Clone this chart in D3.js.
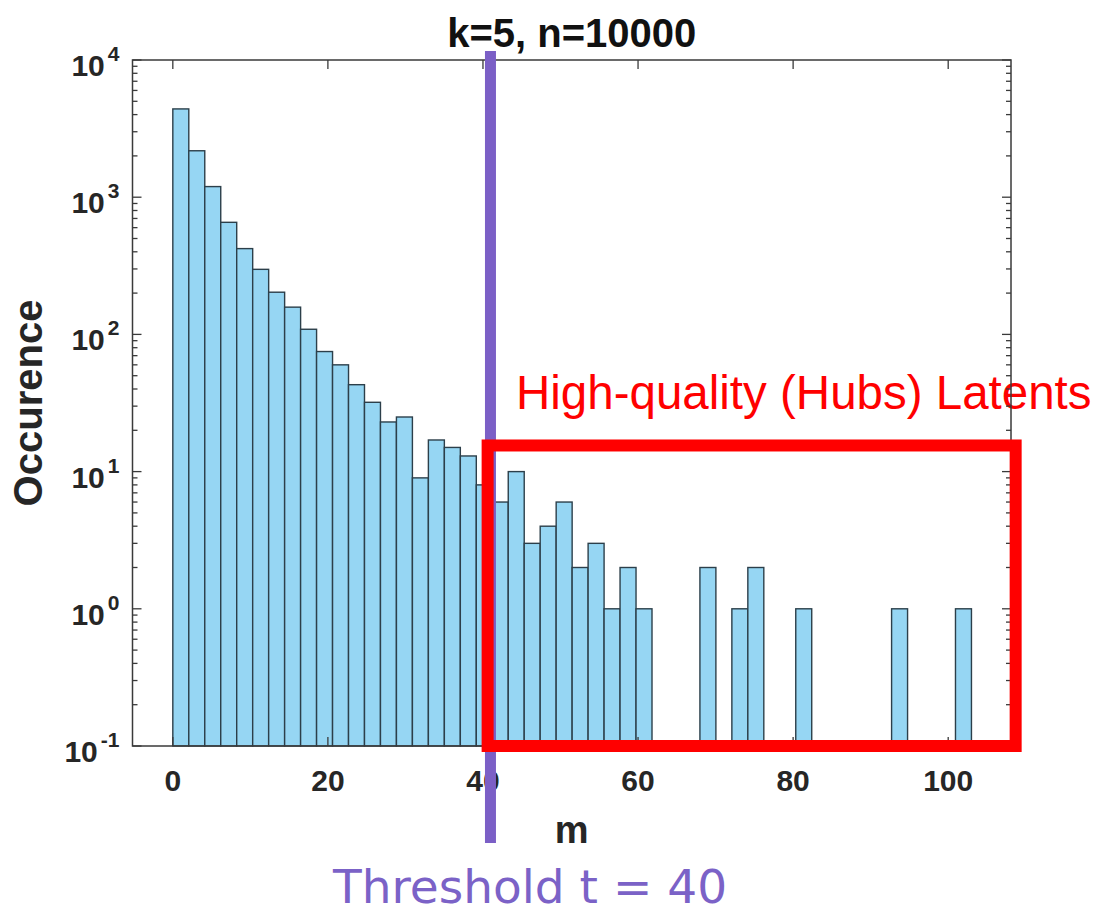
<!DOCTYPE html>
<html>
<head>
<meta charset="utf-8">
<script src="https://cdn.jsdelivr.net/npm/d3@7"></script>
<style>
body { margin: 0; background: #fff; }
svg { display: block; }
</style>
</head>
<body>
<svg width="1099" height="913"></svg>
<script>
// histogram of m, 50 bins over [0, 103]
var binWidth = 2.06;
var counts = [4400, 2180, 1195, 656, 422, 298, 203, 158, 109, 75,
              60, 43, 32, 23, 25, 9, 17, 15, 13, 8,
              6, 10, 3, 4, 6, 2, 3, 1, 2, 1,
              0, 0, 0, 2, 0, 1, 2, 0, 0, 1,
              0, 0, 0, 0, 0, 1, 0, 0, 0, 1];
var xTicks = [0, 20, 40, 60, 80, 100];
var yExponents = [-1, 0, 1, 2, 3, 4];
var threshold = 40;
var hubBox = {m0: 40.6, m1: 108.7, top: 15.5};

var margin = {top: 60, right: 88, bottom: 167, left: 132.5},
    W = 1099, H = 913,
    width = W - margin.left - margin.right,
    height = H - margin.top - margin.bottom;

var svg = d3.select("svg");

var x = d3.scaleLinear()
    .domain([-5.2, 108.1])
    .range([margin.left, margin.left + width]);

var y = d3.scaleLog()
    .domain([0.1, 10000])
    .range([margin.top + height, margin.top]);

var bins = counts.map(function(c, i) {
    return {x0: i * binWidth, x1: (i + 1) * binWidth, n: c};
}).filter(function(d) { return d.n > 0; });

// bars
svg.append("g").selectAll("rect")
    .data(bins)
  .enter().append("rect")
    .attr("x", function(d) { return x(d.x0); })
    .attr("width", function(d) { return x(d.x1) - x(d.x0); })
    .attr("y", function(d) { return y(d.n); })
    .attr("height", function(d) { return y(0.1) - y(d.n); })
    .attr("fill", "#96d6f3")
    .attr("stroke", "#2c3f4a")
    .attr("stroke-width", 1.4);

svg.append("text")
    .attr("x", 516)
    .attr("y", 409)
    .attr("fill", "#ff0000")
    .style("font-family", "'Liberation Sans', Arial, sans-serif")
    .style("font-size", "47.5px")
    .text("High-quality (Hubs) Latents");

// axes box and ticks (inward, like matlab)
var axisColor = "#3a3a3a";
var gAx = svg.append("g");
var x0 = x.range()[0], x1 = x.range()[1], yb = y.range()[0], yt = y.range()[1];

gAx.append("rect")
    .attr("x", x0).attr("y", yt)
    .attr("width", x1 - x0).attr("height", yb - yt)
    .attr("fill", "none")
    .attr("stroke", axisColor)
    .attr("stroke-width", 1.5);

xTicks.forEach(function(t) {
    gAx.append("line").attr("x1", x(t)).attr("x2", x(t)).attr("y1", yb).attr("y2", yb - 9)
        .attr("stroke", axisColor).attr("stroke-width", 1.3);
    gAx.append("line").attr("x1", x(t)).attr("x2", x(t)).attr("y1", yt).attr("y2", yt + 9)
        .attr("stroke", axisColor).attr("stroke-width", 1.3);
});

var majors = yExponents.map(function(e) { return Math.pow(10, e); });
y.ticks().forEach(function(v) {
    var isMajor = majors.some(function(m) { return Math.abs(m - v) / m < 1e-6; });
    var len = isMajor ? 9 : 5;
    gAx.append("line").attr("x1", x0).attr("x2", x0 + len).attr("y1", y(v)).attr("y2", y(v))
        .attr("stroke", axisColor).attr("stroke-width", 1.3);
    gAx.append("line").attr("x1", x1).attr("x2", x1 - len).attr("y1", y(v)).attr("y2", y(v))
        .attr("stroke", axisColor).attr("stroke-width", 1.3);
});

var fontBold = "'Liberation Sans', Arial, Helvetica, sans-serif";

gAx.selectAll(".xlab")
    .data(xTicks)
  .enter().append("text")
    .attr("x", function(d) { return x(d); })
    .attr("y", yb + 45)
    .attr("text-anchor", "middle")
    .attr("fill", "#262626")
    .style("font-family", fontBold)
    .style("font-weight", "bold")
    .style("font-size", "30px")
    .text(function(d) { return d; });

var ylab = gAx.selectAll(".ylab")
    .data(yExponents)
  .enter().append("text")
    .attr("x", x0 - 13)
    .attr("y", function(e) { return y(Math.pow(10, e)) + 16; })
    .attr("text-anchor", "end")
    .attr("fill", "#262626")
    .style("font-family", fontBold)
    .style("font-weight", "bold")
    .style("font-size", "30px");
ylab.append("tspan").text("10");
ylab.append("tspan")
    .attr("dx", 3)
    .attr("dy", -15)
    .style("font-size", "21px")
    .text(function(e) { return e; });

// axis labels and title
svg.append("text")
    .attr("x", (x0 + x1) / 2)
    .attr("y", 843)
    .attr("text-anchor", "middle")
    .attr("fill", "#262626")
    .style("font-family", fontBold)
    .style("font-weight", "bold")
    .style("font-size", "38px")
    .text("m");

svg.append("text")
    .attr("transform", "translate(42," + (yt + yb) / 2 + ") rotate(-90)")
    .attr("text-anchor", "middle")
    .attr("fill", "#262626")
    .style("font-family", fontBold)
    .style("font-weight", "bold")
    .style("font-size", "40px")
    .text("Occurence");

svg.append("text")
    .attr("x", (x0 + x1) / 2)
    .attr("y", 47)
    .attr("text-anchor", "middle")
    .attr("fill", "#111")
    .style("font-family", fontBold)
    .style("font-weight", "bold")
    .style("font-size", "40px")
    .text("k=5, n=10000");

// threshold line (hand placed a bit right of t on the original)
var tx = x(threshold) + 7.5;
svg.append("line")
    .attr("x1", tx).attr("x2", tx)
    .attr("y1", 51).attr("y2", 843)
    .attr("stroke", "#7b5fc6")
    .attr("stroke-width", 11);

// hubs box
svg.append("rect")
    .attr("x", x(hubBox.m0))
    .attr("y", y(hubBox.top))
    .attr("width", x(hubBox.m1) - x(hubBox.m0))
    .attr("height", y(0.1) - y(hubBox.top))
    .attr("fill", "none")
    .attr("stroke", "#ff0000")
    .attr("stroke-width", 12);

svg.append("text")
    .attr("x", 530)
    .attr("y", 903)
    .attr("text-anchor", "middle")
    .attr("fill", "#7b62c7")
    .style("font-family", "'DejaVu Sans', Verdana, sans-serif")
    .style("font-size", "47px")
    .text("Threshold t = " + threshold);
</script>
</body>
</html>
